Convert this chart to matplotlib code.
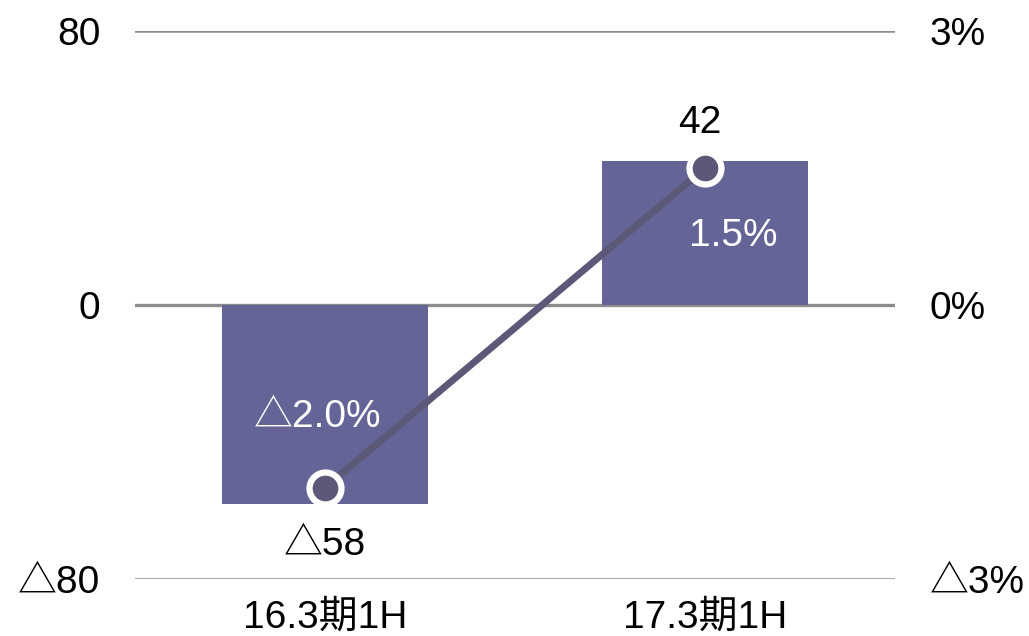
import matplotlib
matplotlib.use("Agg")
import matplotlib.pyplot as plt
from matplotlib.ticker import FixedLocator

plt.rcParams['font.family'] = ['Liberation Sans', 'Noto Sans CJK JP', 'DejaVu Sans']

categories = ["16.3期1H", "17.3期1H"]
profit = [-58, 42]          # left axis (bars)
margin = [-2.0, 1.5]        # right axis (%), line
left_ticks = [-80, 0, 80]
right_ticks = [-3, 0, 3]

def fmt_num(v):
    return ("△" + f"{abs(v):g}") if v < 0 else f"{v:g}"

def fmt_pct(v, d=1):
    s = f"{abs(v):.{d}f}%"
    return ("△" + s) if v < 0 else s

bar_color = "#646496"
line_color = "#5c5878"
grid_color = "#8c8c8c"
fs = 28

fig = plt.figure(figsize=(10.29, 6.36), dpi=100)
ax = fig.add_axes([135/1029, 1 - 579/636, 760/1029, 548/636])
ax2 = ax.twinx()

x = list(range(len(categories)))
ax.set_xlim(-0.5, 1.5)
ax.set_ylim(-80, 80)
ax2.set_ylim(-3, 3)

for y in left_ticks:
    ax.axhline(y, color=grid_color, lw=1.8 if y != 0 else 2.4, zorder=1)

ax.bar(x, profit, width=0.54, color=bar_color, zorder=2)

ax.set_zorder(1)
ax2.set_zorder(2)
ax.patch.set_visible(False)
ax2.patch.set_visible(False)

ax2.plot(x, margin, color=line_color, lw=5, zorder=3, solid_capstyle='butt')
ax2.plot(x, margin, 'o', ms=23, mfc=line_color, mec='white', mew=4.5, zorder=4)

for a in (ax, ax2):
    for s in a.spines.values():
        s.set_visible(False)

ax.set_xticks(x)
ax.set_xticklabels(categories, fontsize=fs)
ax.yaxis.set_major_locator(FixedLocator(left_ticks))
ax.set_yticklabels([fmt_num(v) for v in left_ticks], fontsize=fs)
ax2.yaxis.set_major_locator(FixedLocator(right_ticks))
ax2.set_yticklabels([fmt_pct(v, 0) for v in right_ticks], fontsize=fs)
ax.tick_params(axis='y', length=0, pad=25)
ax2.tick_params(axis='y', length=0, pad=25)
ax.tick_params(axis='x', length=0, pad=15)

# bar value labels
for xi, v in zip(x, profit):
    off = 38 if v >= 0 else -41
    ax.annotate(fmt_num(v), (xi, v), xytext=(0 if v < 0 else -5, off), textcoords='offset pixels',
                ha='center', va='center', fontsize=fs, color='black', zorder=5)

# margin labels inside bars
pct_offsets = [(-7, 71), (28, -68)]
for xi, v, (dx, dy) in zip(x, margin, pct_offsets):
    ax2.annotate(fmt_pct(v), (xi, v), xytext=(dx, dy), textcoords='offset pixels',
                 ha='center', va='center', fontsize=fs, color='white', zorder=5)

fig.savefig("out.png", dpi=100)
